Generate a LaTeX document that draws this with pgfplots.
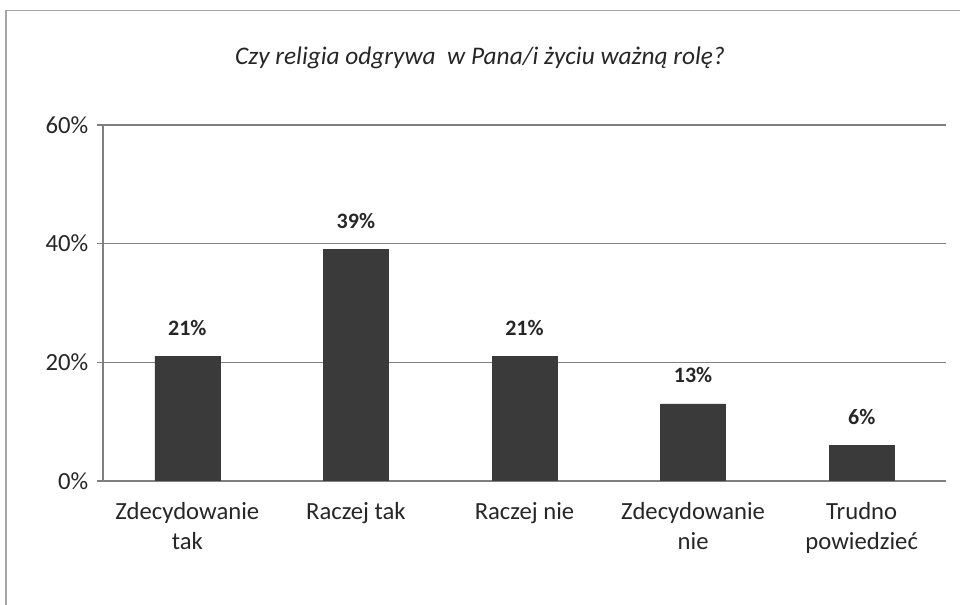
\documentclass[border=0pt]{standalone}
\usepackage{pgfplots}
\pgfplotsset{compat=1.18}
\usepackage{fontspec}
\setmainfont{Carlito}
\definecolor{barc}{HTML}{3A3A3A}
\definecolor{gridc}{HTML}{7F7F7F}
\definecolor{txtc}{HTML}{262626}
\begin{document}
\begin{tikzpicture}
\path[use as bounding box] (0,0) rectangle (720pt,453.75pt);
\draw[gridc!70, line width=1.2pt] (4.5pt,0) -- (4.5pt,446pt) -- (720pt,446pt);
\node[font=\itshape\fontsize{19}{22}\selectfont, text=txtc] at (360pt,410pt) {Czy religia odgrywa\ \ w Pana/i życiu ważną rolę?};
\begin{axis}[
  at={(77.25pt,93pt)}, anchor=south west,
  scale only axis, width=632.25pt, height=267pt,
  xmin=-0.5, xmax=4.5, ymin=0, ymax=60,
  ytick={0,20,40,60},
  yticklabel={\pgfmathprintnumber{\tick}\%},
  /pgf/number format/assume math mode=true,
  xtick={0,1,2,3,4},
  xticklabels={{Zdecydowanie\\tak},{Raczej tak},{Raczej nie},{Zdecydowanie\\nie},{Trudno\\powiedzieć}},
  xticklabel style={align=center, text=txtc, font=\fontsize{18.5}{22.5}\selectfont, yshift=-8pt},
  yticklabel style={text=txtc, font=\fontsize{18.5}{22}\selectfont, xshift=-3pt},
  x tick style={draw=none},
  extra x ticks={-0.5,0.5,1.5,2.5,3.5,4.5},
  extra x tick labels={},
  extra x tick style={grid=none, major tick length=6pt, tick style={draw=gridc, line width=1pt}, tick align=outside},
  axis x line*=bottom, axis y line*=left,
  axis line style={draw=gridc, line width=1.1pt, -},
  ymajorgrids, grid style={draw=gridc, line width=1.1pt},
  y tick style={draw=gridc, line width=1pt}, tick align=outside, major tick length=4.5pt,
  ybar, bar width=48.75pt,
  nodes near coords={\pgfmathprintnumber{\pgfplotspointmeta}\%},
  nodes near coords style={font=\bfseries\fontsize{16.5}{18}\selectfont, text=txtc, yshift=12pt},
]
\addplot[fill=barc, draw=barc] coordinates {(0,21) (1,39) (2,21) (3,13) (4,6)};
\end{axis}
\end{tikzpicture}
\end{document}
